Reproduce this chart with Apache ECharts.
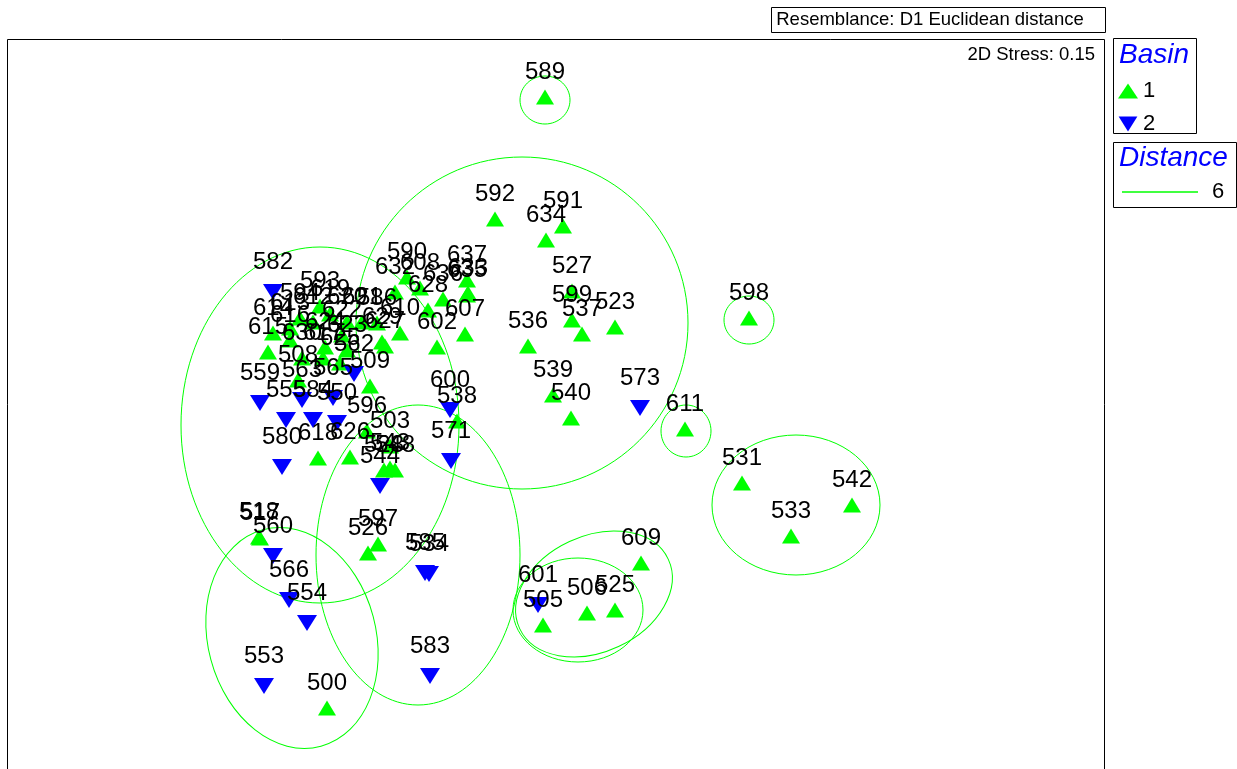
<!DOCTYPE html>
<html>
<head>
<meta charset="utf-8">
<title>nMDS Basin</title>
<script src="https://cdn.jsdelivr.net/npm/echarts@6/dist/echarts.min.js"></script>
<style>
    html, body { margin: 0; padding: 0; background: #fff; }
    #chart { width: 1237px; height: 769px; }
</style>
</head>
<body>
<div id="chart"></div>
<script>
    // sample points: [x, y, label]  (y grows downward)
    var basin1 = [
        [545, 97, '589'], [495, 219, '592'], [563, 226, '591'], [546, 240, '634'],
        [572, 291, '527'], [572, 320, '599'], [582, 334, '537'], [615, 327, '523'],
        [528, 346, '536'], [553, 395, '539'], [571, 418, '540'], [685, 429, '611'],
        [749, 318, '598'], [742, 483, '531'], [852, 505, '542'], [791, 536, '533'],
        [641, 563, '609'], [543, 625, '505'], [587, 613, '506'], [615, 610, '525'],
        [327, 708, '500'], [260, 538, '517'], [259, 537, '518'], [378, 544, '597'],
        [368, 553, '526'], [390, 446, '503'], [384, 470, '528'], [395, 470, '548'],
        [390, 468, '543'], [350, 457, '626'], [318, 458, '618'], [457, 421, '538'],
        [367, 431, '596'], [407, 277, '590'], [395, 292, '632'], [420, 288, '608'],
        [467, 280, '637'], [467, 295, '635'], [468, 293, '633'], [443, 299, '636'],
        [428, 310, '628'], [400, 333, '610'], [437, 347, '602'], [465, 334, '607'],
        [320, 306, '593'], [300, 318, '594'], [290, 328, '613'], [273, 333, '614'],
        [290, 340, '616'], [268, 352, '615'], [330, 314, '619'], [313, 322, '612'],
        [347, 322, '620'], [362, 322, '621'], [377, 323, '586'], [382, 342, '629'],
        [342, 335, '622'], [325, 347, '624'], [302, 358, '630'], [323, 358, '617'],
        [347, 350, '623'], [340, 363, '625'], [385, 346, '627'], [298, 380, '508'],
        [370, 386, '509']
    ];
    var basin2 = [
        [273, 292, '582'], [260, 403, '559'], [302, 400, '563'], [333, 398, '565'],
        [354, 374, '562'], [286, 420, '555'], [313, 420, '584'], [337, 423, '550'],
        [282, 467, '580'], [380, 486, '544'], [450, 410, '600'], [451, 461, '571'],
        [640, 408, '573'], [273, 556, '560'], [289, 600, '566'], [307, 623, '554'],
        [264, 686, '553'], [425, 573, '585'], [429, 574, '534'], [430, 676, '583'],
        [538, 605, '601']
    ];
    // groups at distance 6: [cx, cy, rx, ry, rotation deg]
    var clusters6 = [
        [545, 100, 25, 24, 0],
        [522, 323, 166, 166, 0],
        [320, 425, 139, 178, 0],
        [418, 555, 102, 150, 0],
        [292, 638, 84, 112, -15],
        [749, 320, 25, 24, 0],
        [686, 431, 25, 26, 0],
        [796, 505, 84, 70, 0],
        [578, 610, 65, 52, 0],
        [594, 594, 82, 58, -25]
    ];

    var font = 'Liberation Sans, Arial, sans-serif';
    var green = '#00ff00';
    var blue = '#0000ff';

    var chart = echarts.init(document.getElementById('chart'));
    chart.setOption({
        backgroundColor: '#fff',
        animation: false,
        grid: { left: 7, top: 39, right: 133, bottom: 0, show: false },
        xAxis: { type: 'value', min: 7, max: 1104, show: false },
        yAxis: { type: 'value', min: 39, max: 769, inverse: true, show: false },
        legend: [
            {
                data: ['1', '2'], orient: 'vertical', left: 1113, top: 75,
                itemWidth: 20, itemHeight: 15, itemGap: 11, selectedMode: false,
                textStyle: { fontFamily: font, fontSize: 22, color: '#000' }
            },
            {
                data: [{ name: '6', icon: 'rect' }], left: 1117, top: 176,
                itemWidth: 76, itemHeight: 1.5, selectedMode: false,
                textStyle: { fontFamily: font, fontSize: 22, color: '#000', padding: [0, 0, 0, 9] }
            }
        ],
        graphic: [
            { type: 'rect', shape: { x: 7.5, y: 39.5, width: 1097, height: 760 }, style: { fill: null, stroke: '#000', lineWidth: 1 }, silent: true },
            { type: 'rect', shape: { x: 771.5, y: 7.5, width: 334, height: 25 }, style: { fill: '#fff', stroke: '#000', lineWidth: 1 } },
            { type: 'text', x: 930, y: 20, style: { text: 'Resemblance: D1 Euclidean distance', font: '18.5px ' + font, fill: '#000', align: 'center', verticalAlign: 'middle' } },
            { type: 'text', x: 1095, y: 55, style: { text: '2D Stress: 0.15', font: '18.5px ' + font, fill: '#000', align: 'right', verticalAlign: 'middle' } },
            { type: 'rect', shape: { x: 1113.5, y: 38.5, width: 83, height: 95 }, style: { fill: null, stroke: '#000', lineWidth: 1 } },
            { type: 'text', x: 1119, y: 55, style: { text: 'Basin', font: 'italic 28px ' + font, fill: blue, verticalAlign: 'middle' } },
            { type: 'rect', shape: { x: 1113.5, y: 142.5, width: 123, height: 65 }, style: { fill: null, stroke: '#000', lineWidth: 1 } },
            { type: 'text', x: 1119, y: 158, style: { text: 'Distance', font: 'italic 28px ' + font, fill: blue, verticalAlign: 'middle' } }
        ],
        series: [
            {
                name: '6',
                type: 'custom',
                color: green,
                silent: true,
                clip: false,
                data: clusters6,
                encode: { x: 0, y: 1 },
                renderItem: function (params, api) {
                    var c = api.coord([api.value(0), api.value(1)]);
                    var s = api.size([api.value(2), api.value(3)]);
                    return {
                        type: 'ellipse',
                        shape: { cx: 0, cy: 0, rx: s[0], ry: s[1] },
                        x: c[0], y: c[1],
                        rotation: -api.value(4) * Math.PI / 180,
                        style: { fill: null, stroke: green, lineWidth: 1 }
                    };
                }
            },
            {
                name: '1',
                type: 'scatter',
                data: basin1,
                symbol: 'triangle',
                symbolSize: [18, 15],
                itemStyle: { color: green, opacity: 1 },
                label: {
                    show: true, position: 'inside', offset: [0, -25],
                    formatter: function (p) { return p.value[2]; },
                    fontFamily: font, fontSize: 24, color: '#000', textBorderWidth: 0
                }
            },
            {
                name: '2',
                type: 'scatter',
                data: basin2,
                symbol: 'path://M0,0 L20,0 L10,16 Z',
                symbolSize: [20, 16],
                itemStyle: { color: blue, opacity: 1 },
                label: {
                    show: true, position: 'inside', offset: [0, -30],
                    formatter: function (p) { return p.value[2]; },
                    fontFamily: font, fontSize: 24, color: '#000', textBorderWidth: 0
                }
            }
        ]
    });
</script>
</body>
</html>
